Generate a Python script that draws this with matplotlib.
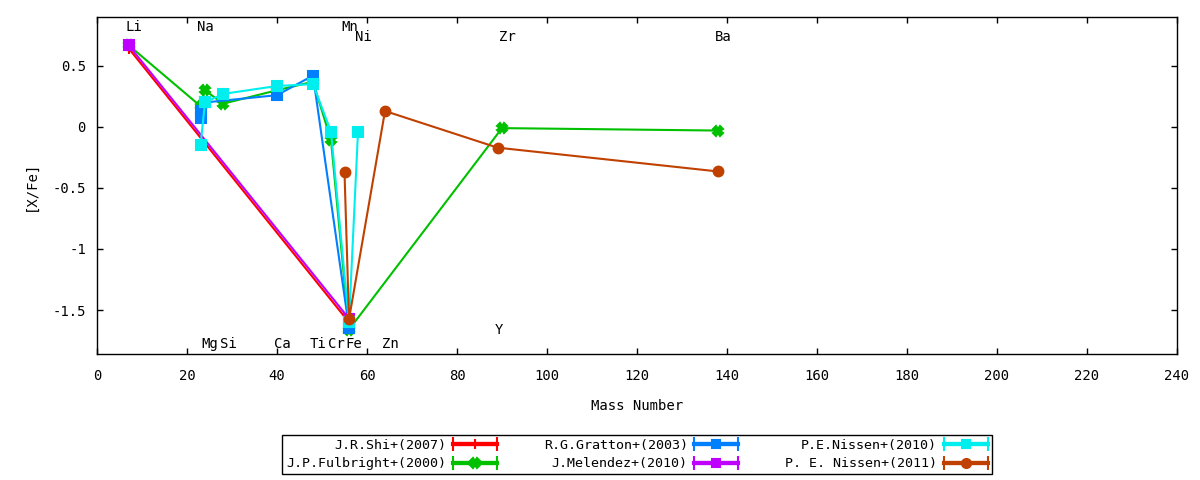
import numpy as np
import matplotlib.pyplot as plt
from matplotlib.legend_handler import HandlerErrorbar

plt.rcParams["font.family"] = ["DejaVu Sans Mono"]
plt.rcParams["font.size"] = 9.6

# abundance ratios, [X/Fe] against mass number
shi_mass = [7, 56]
shi_xfe = [0.645, -1.60]

fulbright_mass = [7, 23, 24, 28, 40, 48, 52, 56, 90, 138]
fulbright_xfe = [0.67, 0.17, 0.30, 0.19, 0.30, 0.37, -0.11, -1.66, -0.01, -0.03]

gratton_mass = [23, 23, 24, 40, 48, 56]
gratton_xfe = [0.07, 0.13, 0.20, 0.26, 0.42, -1.645]

melendez_mass = [7, 56]
melendez_xfe = [0.67, -1.57]

nissen10_mass = [23, 24, 28, 40, 48, 52, 56, 58]
nissen10_xfe = [-0.15, 0.20, 0.27, 0.335, 0.35, -0.04, -1.60, -0.04]

nissen11_mass = [55, 56, 64, 89, 138]
nissen11_xfe = [-0.37, -1.575, 0.13, -0.17, -0.365]

# element names written at their mass numbers
elem_names = ["Li", "Na", "Mn", "Ni", "Zr", "Ba",
              "Mg", "Si", "Ca", "Ti", "Cr", "Fe", "Zn", "Y"]
elem_mass = [7, 23, 55, 58, 90, 138, 24, 28, 40, 48, 52, 56, 64, 89]
elem_y = [0.82, 0.82, 0.82, 0.74, 0.74, 0.74,
          -1.78, -1.78, -1.78, -1.78, -1.78, -1.78, -1.78, -1.66]

series = [
    ("J.R.Shi+(2007)", shi_mass, shi_xfe, "#ff0000", "+", 8),
    ("J.P.Fulbright+(2000)", fulbright_mass, fulbright_xfe, "#00c000", "X", 7),
    ("R.G.Gratton+(2003)", gratton_mass, gratton_xfe, "#0080ff", "s", 6.8),
    ("J.Melendez+(2010)", melendez_mass, melendez_xfe, "#c000ff", "s", 6.8),
    ("P.E.Nissen+(2010)", nissen10_mass, nissen10_xfe, "#00eeee", "s", 6.8),
    ("P. E. Nissen+(2011)", nissen11_mass, nissen11_xfe, "#c04000", "o", 7),
]

fig = plt.figure(figsize=(12, 4.8), dpi=100)
ax = fig.add_axes([97 / 1200, 1 - 354 / 480, 1080 / 1200, 337 / 480])

handles = []
for label, xs, ys, color, marker, ms in series:
    ax.plot(xs, ys, color=color, lw=1.5, marker=marker, ms=ms, mew=1.5)
    # proxy only for the gnuplot-like key sample
    h = ax.errorbar([np.nan], [np.nan], xerr=[1], color=color, lw=3,
                    marker=marker, ms=ms - 0.5, mew=1.5, capsize=5, capthick=2.5,
                    elinewidth=3, label=label)
    handles.append(h)

for name, m, y in zip(elem_names, elem_mass, elem_y):
    ax.text(m - 0.7, y, name, ha="left", va="center", fontsize=10)

ax.set_xlim(0, 240)
ax.set_ylim(-1.86, 0.9)
ax.set_xticks(np.arange(0, 241, 20))
ax.set_yticks([-1.5, -1, -0.5, 0, 0.5])
ax.set_yticklabels(["-1.5", "-1", "-0.5", "0", "0.5"])
ax.tick_params(direction="in", length=4, width=1, top=True, right=True,
               labelsize=10)
ax.tick_params(axis="x", pad=11)
ax.tick_params(axis="y", pad=8)
for sp in ax.spines.values():
    sp.set_linewidth(1)

ax.set_xlabel("Mass Number", labelpad=11, fontsize=10)
ax.set_ylabel("[X/Fe]", labelpad=10.5, fontsize=10)

leg = fig.legend(handles=handles, loc="center", bbox_to_anchor=(637 / 1200, 1 - 454.5 / 480),
                 ncol=3, markerfirst=False, frameon=True, fancybox=False,
                 edgecolor="black", framealpha=1, handlelength=3.3,
                 handletextpad=0.5, columnspacing=3.5, labelspacing=0.4,
                 borderpad=0.3, borderaxespad=0,
                 handler_map={type(handles[0]): HandlerErrorbar(xerr_size=1.65)})
leg.get_frame().set_linewidth(1)

fig.savefig("out.png", dpi=100)
